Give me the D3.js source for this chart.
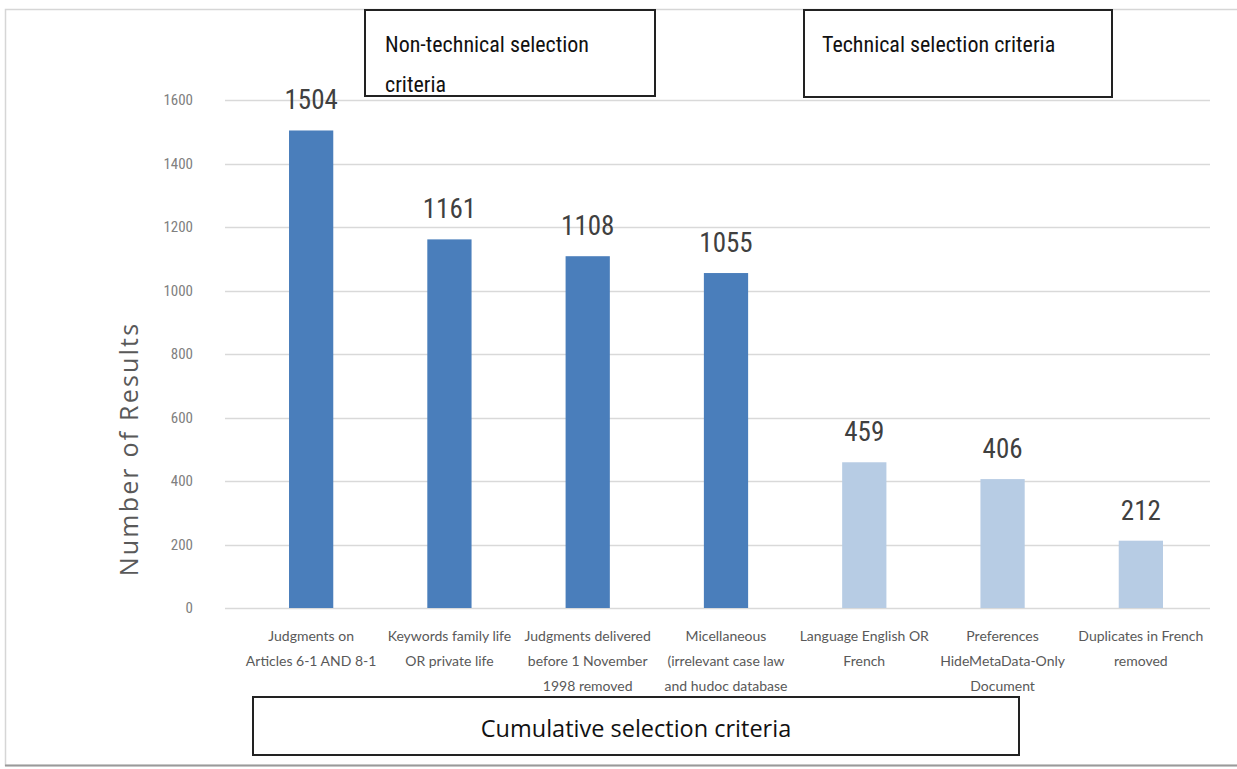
<!DOCTYPE html>
<html>
<head>
<meta charset="utf-8">
<script src="https://cdn.jsdelivr.net/npm/d3@7"></script>
<style>
  html, body { margin: 0; padding: 0; background: #fff; }
  svg { display: block; }
  .narrow { font-family: "Liberation Sans Narrow", "Arial Narrow", "Roboto Condensed", sans-serif; }
  .cal { font-family: Lato, "Open Sans", sans-serif; }
</style>
</head>
<body>
<svg id="chart" width="1237" height="769"></svg>
<script>
// Search-result counts after each cumulative selection step
const categories = [
  ["Judgments on", "Articles 6-1 AND 8-1"],
  ["Keywords family life", "OR private life"],
  ["Judgments delivered", "before 1 November", "1998 removed"],
  ["Micellaneous", "(irrelevant case law", "and hudoc database"],
  ["Language English OR", "French"],
  ["Preferences", "HideMetaData-Only", "Document"],
  ["Duplicates in French", "removed"]
];
const results = [1504, 1161, 1108, 1055, 459, 406, 212];
const groups = ["non-technical", "non-technical", "non-technical", "non-technical", "technical", "technical", "technical"];
const yTicks = [0, 200, 400, 600, 800, 1000, 1200, 1400, 1600];
const yTitle = "Number of Results";
const boxTitles = {
  nonTechnical: ["Non-technical selection", "criteria"],
  technical: ["Technical selection criteria"],
  cumulative: ["Cumulative selection criteria"]
};

const svg = d3.select("#chart");

// Outer frame
svg.append("rect")
  .attr("x", 5.5).attr("y", 9.5)
  .attr("width", 1250).attr("height", 756)
  .attr("fill", "#fff")
  .attr("stroke", "#d6d6d6").attr("stroke-width", 1.5);
svg.append("line")
  .attr("x1", 5).attr("x2", 1237)
  .attr("y1", 765.5).attr("y2", 765.5)
  .attr("stroke", "#9a9a9a").attr("stroke-width", 2);

const plot = { left: 225, right: 1210, top: 100, bottom: 608 };

const x = d3.scaleBand()
  .domain(d3.range(categories.length))
  .range([242, plot.right])
  .paddingInner(0.68)
  .paddingOuter(0.34);

const y = d3.scaleLinear()
  .domain([0, 1600])
  .range([plot.bottom, plot.top]);

// Horizontal gridlines
svg.append("g")
  .selectAll("line")
  .data(yTicks)
  .join("line")
  .attr("x1", plot.left).attr("x2", plot.right)
  .attr("y1", d => Math.round(y(d)) + 0.5)
  .attr("y2", d => Math.round(y(d)) + 0.5)
  .attr("stroke", "#d9d9d9").attr("stroke-width", 1.5);

// Y axis labels
const yAxis = d3.axisLeft(y).tickValues(yTicks).tickFormat(d3.format("d")).tickSize(0).tickPadding(0);
svg.append("g")
  .attr("transform", `translate(${plot.left - 32},0)`)
  .call(yAxis)
  .call(g => g.select(".domain").remove())
  .call(g => g.selectAll("text")
    .attr("class", "narrow")
    .attr("font-size", 15)
    .attr("fill", "#808080"));

// Bars
svg.append("g")
  .selectAll("rect")
  .data(results)
  .join("rect")
  .attr("x", (d, i) => x(i))
  .attr("y", d => y(d))
  .attr("width", x.bandwidth())
  .attr("height", d => y(0) - y(d))
  .attr("fill", (d, i) => groups[i] === "technical" ? "#b7cce4" : "#4a7ebb");

// Value labels
svg.append("g")
  .selectAll("text")
  .data(results)
  .join("text")
  .attr("class", "narrow")
  .attr("x", (d, i) => x(i) + x.bandwidth() / 2)
  .attr("y", d => y(d) - 21)
  .attr("text-anchor", "middle")
  .attr("font-size", 27)
  .attr("fill", "#404040")
  .text(d => d);

// Category labels (wrapped)
const catG = svg.append("g")
  .selectAll("text")
  .data(categories)
  .join("text")
  .attr("class", "cal")
  .attr("text-anchor", "middle")
  .attr("font-size", 14)
  .attr("fill", "#595959")
  .attr("x", (d, i) => x(i) + x.bandwidth() / 2)
  .attr("y", 641);
catG.selectAll("tspan")
  .data(d => d)
  .join("tspan")
  .attr("x", function () { return d3.select(this.parentNode).attr("x"); })
  .attr("dy", (d, i) => i === 0 ? 0 : 25)
  .text(d => d);

// Y axis title
svg.append("text")
  .attr("transform", "translate(138,449) rotate(-90)")
  .attr("text-anchor", "middle")
  .attr("font-family", "'Open Sans', sans-serif")
  .attr("font-size", 25)
  .attr("letter-spacing", 2.2)
  .attr("fill", "#595959")
  .text(yTitle);

// Annotation boxes
function box(x0, y0, w, h, lines, opts) {
  const g = svg.append("g");
  g.append("rect")
    .attr("x", x0).attr("y", y0).attr("width", w).attr("height", h)
    .attr("fill", "#fff").attr("stroke", "#222").attr("stroke-width", 2);
  g.selectAll("text")
    .data(lines)
    .join("text")
    .attr("class", opts.cls || null)
    .attr("font-family", opts.family || null)
    .attr("x", opts.anchor === "middle" ? x0 + w / 2 : x0 + opts.pad)
    .attr("y", (d, i) => y0 + opts.first + i * opts.lh)
    .attr("text-anchor", opts.anchor || "start")
    .attr("font-size", opts.size)
    .attr("fill", "#111")
    .text(d => d);
}

box(365, 10, 290, 86, boxTitles.nonTechnical, { cls: "narrow", pad: 20, first: 42, lh: 40, size: 22 });
box(804, 10, 308, 87, boxTitles.technical, { cls: "narrow", pad: 18, first: 42, lh: 40, size: 22 });
box(253, 697, 766, 58, boxTitles.cumulative, { family: "'Open Sans', sans-serif", anchor: "middle", first: 40, lh: 0, size: 23.5 });
</script>
</body>
</html>
